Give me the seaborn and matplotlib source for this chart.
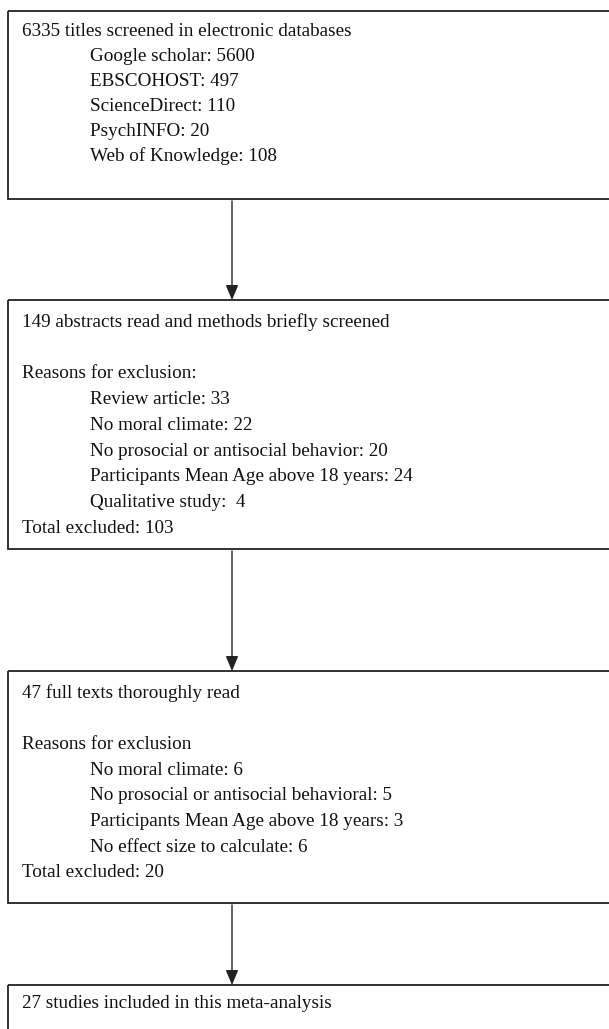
import matplotlib.pyplot as plt
import seaborn as sns

sns.set_style("white")
plt.rcParams['font.family'] = ['Liberation Serif', 'DejaVu Serif']

# box contents: (text, indented?)
box1_lines = [("6335 titles screened in electronic databases", False),
              ("Google scholar: 5600", True),
              ("EBSCOHOST: 497", True),
              ("ScienceDirect: 110", True),
              ("PsychINFO: 20", True),
              ("Web of Knowledge: 108", True)]
box2_lines = [("149 abstracts read and methods briefly screened", False),
              ("", False),
              ("Reasons for exclusion:", False),
              ("Review article: 33", True),
              ("No moral climate: 22", True),
              ("No prosocial or antisocial behavior: 20", True),
              ("Participants Mean Age above 18 years: 24", True),
              ("Qualitative study:  4", True),
              ("Total excluded: 103", False)]
box3_lines = [("47 full texts thoroughly read", False),
              ("", False),
              ("Reasons for exclusion", False),
              ("No moral climate: 6", True),
              ("No prosocial or antisocial behavioral: 5", True),
              ("Participants Mean Age above 18 years: 3", True),
              ("No effect size to calculate: 6", True),
              ("Total excluded: 20", False)]
box4_lines = [("27 studies included in this meta-analysis", False)]

boxes = [box1_lines, box2_lines, box3_lines, box4_lines]
box_top = [11, 300, 671, 985]
box_bottom = [199, 549, 903, 1040]
first_line_y = [32, 322, 693, 1003]
line_step = [24.8, 25.8, 25.7, 25.8]

fig = plt.figure(figsize=(6.09, 10.29), dpi=100)
ax = fig.add_axes([0, 0, 1, 1])
ax.set_xlim(0, 609)
ax.set_ylim(1029, 0)
ax.axis('off')

left, right = 8, 620
text_x, indent_x = 22, 90
arrow_x = 232

for lines, top, bot, y0, step in zip(boxes, box_top, box_bottom, first_line_y, line_step):
    ax.add_patch(plt.Rectangle((left, top), right - left, bot - top,
                               fill=False, edgecolor='#222222', linewidth=1.3))
    for i, (txt, ind) in enumerate(lines):
        ax.text(indent_x if ind else text_x, y0 + i * step, txt,
                fontsize=13.8, va='center', ha='left', color='#111111')

for i in range(len(boxes) - 1):
    start = box_bottom[i] + 2
    end = box_top[i + 1]
    ax.annotate("", xy=(arrow_x, end), xytext=(arrow_x, start),
                arrowprops=dict(arrowstyle="-|>,head_length=0.9,head_width=0.38",
                                color='#222222', lw=1.0, shrinkA=0, shrinkB=0))

fig.savefig("out.png", dpi=100)
